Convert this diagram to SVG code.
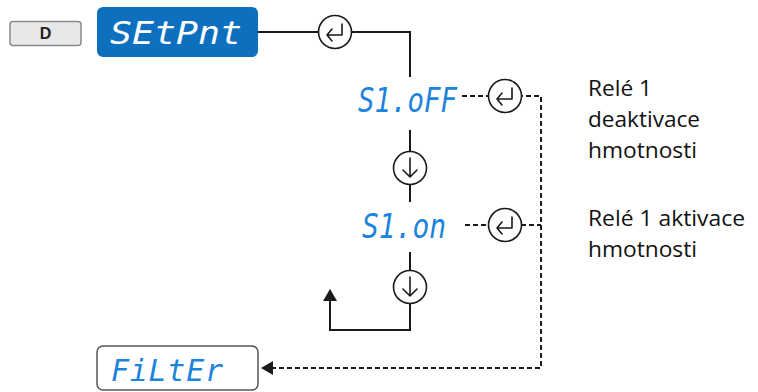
<svg xmlns="http://www.w3.org/2000/svg" width="758" height="392" viewBox="0 0 758 392">
<defs>
<style>
.ln{stroke:#1a1a1a;stroke-width:2;fill:none}
.dl{stroke:#1a1a1a;stroke-width:2;fill:none;stroke-dasharray:5,3}
.circ{stroke:#1a1a1a;stroke-width:1.6;fill:#fff}
.ico{stroke:#1a1a1a;stroke-width:1.6;fill:none;stroke-linecap:round;stroke-linejoin:round}
.seg{font-family:"DejaVu Sans Mono",monospace;font-style:oblique;fill:#1c84dc}
.lbl{font-family:"Open Sans","Liberation Sans",sans-serif;font-size:21px;fill:#111}
</style>
<marker id="ah2" markerWidth="12" markerHeight="14" refX="11" refY="7" orient="auto" markerUnits="userSpaceOnUse">
<path d="M0,0 L12,7 L0,14 z" fill="#1a1a1a"/>
</marker>
<g id="enter"><circle class="circ" r="16.5"/><path class="ico" d="M7,-8 V3 H-8 M-3,-3 L-8,3 L-3,9"/></g>
<g id="down"><circle class="circ" r="16.5"/><path class="ico" d="M0,-10 V9 M-7,2 L0,9 L7,2"/></g>
</defs>
<rect width="758" height="392" fill="#fff"/>
<g id="connectors">
<path class="ln" d="M258,32 H410 V77"/>
<path class="ln" d="M410,130 V202"/>
<path class="ln" d="M410,252 V330 H330 V290" marker-end="url(#ah2)"/>
<path class="dl" d="M462,96 H541 V368 H262" marker-end="url(#ah2)"/>
<path class="dl" d="M465,225 H541"/>
</g>
<g id="btnD">
<rect x="10" y="21.5" width="71" height="24" rx="3" fill="#e8e8e8" stroke="#8a8a8a" stroke-width="1.5"/>
<text x="45.5" y="39" text-anchor="middle" font-family="Liberation Sans,Arial,sans-serif" font-weight="bold" font-size="16" fill="#222">D</text>
</g>
<g id="setpnt">
<rect x="97" y="7" width="161" height="50" rx="6" fill="#0c70be"/>
<text class="seg" x="110" y="44" font-size="32" style="fill:#fff" textLength="132" lengthAdjust="spacingAndGlyphs">SEtPnt</text>
</g>
<g id="enter1"><use href="#enter" x="335" y="32"/></g>
<g id="s1off">
<text class="seg" x="358" y="112" font-size="33" textLength="99" lengthAdjust="spacingAndGlyphs">S1.oFF</text>
</g>
<g id="enter2"><use href="#enter" x="505" y="96"/></g>
<g id="down1"><use href="#down" x="410" y="168"/></g>
<g id="s1on">
<text class="seg" x="362" y="238" font-size="33" textLength="84" lengthAdjust="spacingAndGlyphs">S1.on</text>
</g>
<g id="enter3"><use href="#enter" x="505" y="225"/></g>
<g id="down2"><use href="#down" x="410" y="287"/></g>
<g id="filter">
<rect x="97" y="346" width="161" height="44" rx="6" fill="#fff" stroke="#555" stroke-width="1.5"/>
<text class="seg" x="111" y="381" font-size="30" textLength="112" lengthAdjust="spacing">FiLtEr</text>
</g>
<g id="labels">
<text class="lbl" x="588" y="96" textLength="64" lengthAdjust="spacingAndGlyphs">Relé 1</text>
<text class="lbl" x="588" y="127" textLength="112" lengthAdjust="spacingAndGlyphs">deaktivace</text>
<text class="lbl" x="588" y="158" textLength="109" lengthAdjust="spacingAndGlyphs">hmotnosti</text>
<text class="lbl" x="588" y="226" textLength="157" lengthAdjust="spacingAndGlyphs">Relé 1 aktivace</text>
<text class="lbl" x="588" y="257" textLength="109" lengthAdjust="spacingAndGlyphs">hmotnosti</text>
</g>
</svg>
